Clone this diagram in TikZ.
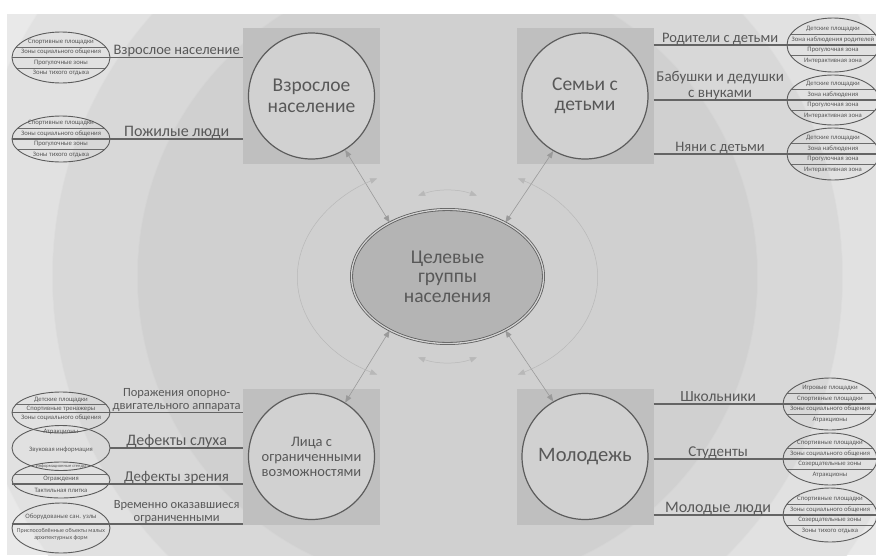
\documentclass[tikz,border=0pt]{standalone}
\usepackage{fontspec}
\setmainfont{Carlito}
\usetikzlibrary{shapes.geometric,arrows.meta}

\definecolor{ink}{HTML}{585858}
\definecolor{edge}{HTML}{5C5C5C}
\definecolor{ringA}{HTML}{E9E9E9}
\definecolor{ringB}{HTML}{E1E1E1}
\definecolor{ringC}{HTML}{D8D8D8}
\definecolor{ringD}{HTML}{D0D0D0}
\definecolor{boxfill}{HTML}{BFBFBF}
\definecolor{groupfill}{HTML}{D1D1D1}
\definecolor{corefill}{HTML}{B4B4B4}
\definecolor{pullgray}{HTML}{9A9A9A}

\tikzset{
  box/.style={rectangle, fill=boxfill, minimum width=137pt, minimum height=136pt, inner sep=0pt},
  group/.style={circle, draw=edge, line width=1.2pt, fill=groupfill, minimum size=126pt,
    inner sep=0pt, align=center, text=ink, font=\fontsize{19.5}{20.5}\selectfont},
  core/.style={ellipse, draw=edge, line width=0.8pt, double=corefill!60!white, double distance=1.3pt,
    fill=corefill, minimum width=192pt, minimum height=134pt, inner sep=0pt, align=center,
    text=ink, font=\fontsize{19.5}{19.5}\selectfont},
  zone/.style={ellipse, draw=edge, line width=0.9pt, inner sep=0pt, minimum width=98pt, minimum height=#1},
  rows/.style={path picture={\foreach \s in {#1}
    {\draw[chord] ([yshift=\s]path picture bounding box.west) -- ([yshift=\s]path picture bounding box.east);}}},
  zonetext/.style={align=center, inner sep=0pt, text=ink, font=\fontsize{6.7}{10.5}\selectfont},
  chord/.style={draw=edge!90, line width=0.8pt},
  link/.style={draw=edge!95, line width=1.5pt},
  tag/.style={above, inner sep=2.2pt, text depth=0pt, align=center, text=ink, font=\fontsize{#1}{#1}\selectfont},
  tag/.default=15,
  pull/.style={<->, >={Triangle[length=7pt, width=5.5pt]}, draw=pullgray, line width=0.6pt},
  swing/.style={<->, >={Triangle[length=7pt, width=5.5pt]}, draw=pullgray!70, line width=0.5pt}
}

\begin{document}
\begin{tikzpicture}[x=1pt, y=-1pt]
\useasboundingbox (0,0) rectangle (876,555);
% background rings
\coordinate (mid) at (447.5,276.5);
\begin{scope}
\clip (7,14) rectangle (876,555);
\fill[ringA] (7,14) rectangle (876,555);
\filldraw[fill=ringB, draw=ringA!60!ringB, line width=0.6pt] (mid) circle[radius=487];
\filldraw[fill=ringC, draw=ringB!60!ringC, line width=0.6pt] (mid) circle[radius=395];
\filldraw[fill=ringD, draw=ringC!60!ringD, line width=0.6pt] (mid) circle[radius=310];
\end{scope}

% four groups
\node[box] (sqA) at (311.5,96) {};
\node[box] (sqB) at (585,96) {};
\node[box] (sqC) at (311.5,456.5) {};
\node[box] (sqD) at (585,456.5) {};
\node[group] (cA) at (sqA) {Взрослое\\население};
\node[group] (cB) at (sqB) {Семьи с\\детьми};
\node[group, font=\fontsize{14.5}{15}\selectfont] (cC) at (sqC) {Лица с\\ограниченными\\возможностями};
\node[group, font=\fontsize{20.5}{21}\selectfont] (cD) at (sqD) {Молодежь};

\node[core] (core) at (mid) {Целевые\\группы\\населения};

% links to the centre
\draw[pull] (cA.-58) -- (core.137);
\draw[pull] (cB.-120) -- (core.43);
\draw[pull] (cC.58) -- (core.-137);
\draw[pull] (cD.120) -- (core.-43);
\draw[swing] ([shift={(110:86)}]core.center) arc[start angle=110, end angle=70, radius=86];
\draw[swing] ([shift={(250:86)}]core.center) arc[start angle=250, end angle=290, radius=86];
\draw[swing] ([shift={(118:150 and 111)}]core.center) arc[start angle=118, end angle=242, x radius=150, y radius=111];
\draw[swing] ([shift={(62:150 and 111)}]core.center) arc[start angle=62, end angle=-62, x radius=150, y radius=111];

% adults
\node[zone=51pt, rows={10.5pt,-10.5pt},
  label={[zonetext]center:{Спортивные площадки\\Зоны социального общения\\Прогулочные зоны\\Зоны тихого отдыха}}]
  (zA1) at (61,57.5) {};
\node[zone=46pt, rows={10.5pt,-10.5pt},
  label={[zonetext]center:{Спортивные площадки\\Зоны социального общения\\Прогулочные зоны\\Зоны тихого отдыха}}]
  (zA2) at (61,139) {};
\draw[link] (zA1.west) -- (zA1.east) -- node[tag=14.5]{Взрослое население} (zA1.east -| sqA.west);
\draw[link] (zA2.west) -- (zA2.east) -- node[tag=16]{Пожилые люди} (zA2.east -| sqA.west);

% families
\node[zone=54pt, minimum width=92pt, rows={10.5pt,-10.5pt},
  label={[zonetext]center:{Детские площадки\\Зона наблюдения родителей\\Прогулочная зона\\Интерактивная зона}}]
  (zB1) at (833,45) {};
\node[zone=50pt, minimum width=92pt, rows={10.5pt,-10.5pt},
  label={[zonetext]center:{Детские площадки\\Зона наблюдения\\Прогулочная зона\\Интерактивная зона}}]
  (zB2) at (833,100) {};
\node[zone=52pt, minimum width=92pt, rows={10.5pt,-10.5pt},
  label={[zonetext]center:{Детские площадки\\Зона наблюдения\\Прогулочная зона\\Интерактивная зона}}]
  (zB3) at (833,154) {};
\draw[link] (zB1.west -| sqB.east) -- node[tag=14.5]{Родители с детьми} (zB1.west) -- (zB1.east);
\draw[link] (zB2.west -| sqB.east) -- node[tag, font=\fontsize{15}{16}\selectfont]{Бабушки и дедушки\\с внуками} (zB2.west) -- (zB2.east);
\draw[link] (zB3.west -| sqB.east) -- node[tag=14.5]{Няни с детьми} (zB3.west) -- (zB3.east);

% youth
\node[zone=52pt, minimum width=94pt, rows={10.5pt,-10.5pt},
  label={[zonetext]center:{Игровые площадки\\Спортивные площадки\\Зоны социального общения\\Атракционы}}]
  (zD1) at (830,404) {};
\node[zone=52pt, minimum width=94pt, rows={10.5pt,-10.5pt},
  label={[zonetext]center:{Спортивные площадки\\Зоны социального общения\\Созерцательные зоны\\Атракционы}}]
  (zD2) at (830,459) {};
\node[zone=54pt, minimum width=94pt, rows={10.5pt,-10.5pt},
  label={[zonetext]center:{Спортивные площадки\\Зоны социального общения\\Созерцательные зоны\\Зоны тихого отдыха}}]
  (zD3) at (830,515) {};
\draw[link] (zD1.west -| sqD.east) -- node[tag=15.5]{Школьники} (zD1.west) -- (zD1.east);
\draw[link] (zD2.west -| sqD.east) -- node[tag=15]{Студенты} (zD2.west) -- (zD2.east);
\draw[link] (zD3.west -| sqD.east) -- node[tag=16]{Молодые люди} (zD3.west) -- (zD3.east);

% limited mobility
\node[zone=41pt, rows={8.5pt}] (zC1) at (61,412.5) {};
\node[zone=45pt] (zC2) at (61,448) {};
\node[zone=36pt, rows={6pt}] (zC3) at (61,480) {};
\node[zone=50pt] (zC4) at (61,528) {};
\node[zonetext] (tC1) at (61,400) {Детские площадки};
\node[zonetext] (tC2) at (61,409) {Спортивные тренажеры};
\node[zonetext] (tC3) at (61,418) {Зоны социального общения};
\node[zonetext] (tC4) at (61,432) {Атракционы};
\node[zonetext] (tC5) at (61,450) {Звуковая информация};
\node[zonetext, font=\fontsize{4.5}{5}\selectfont] (tC6) at (61,466) {Информационные стенды};
\node[zonetext] (tC7) at (61,479) {Ограждения};
\node[zonetext] (tC8) at (61,490.5) {Тактильная плитка};
\node[zonetext] (tC9) at (61,517) {Оборудованые сан. узлы};
\node[zonetext, font=\fontsize{6}{7}\selectfont] (tC10) at (61,534) {Приспособлённые объекты малых\\архитектурных форм};
\draw[link] (zC1.west) -- (zC1.east) -- node[tag, font=\fontsize{12.5}{13}\selectfont]{Поражения опорно-\\двигательного аппарата} (zC1.east -| sqC.west);
\draw[link] (zC2.east) -- node[tag=16]{Дефекты слуха} (zC2.east -| sqC.west);
\draw[link] ([yshift=-4pt]zC3.west) -- ([yshift=-4pt]zC3.east) -- node[tag=15]{Дефекты зрения} ([yshift=-4pt]zC3.east -| sqC.west);
\draw[link] ([yshift=4pt]zC4.west) -- ([yshift=4pt]zC4.east) -- node[tag, font=\fontsize{12.5}{13}\selectfont]{Временно оказавшиеся\\ограниченными} ([yshift=4pt]zC4.east -| sqC.west);
\end{tikzpicture}
\end{document}
